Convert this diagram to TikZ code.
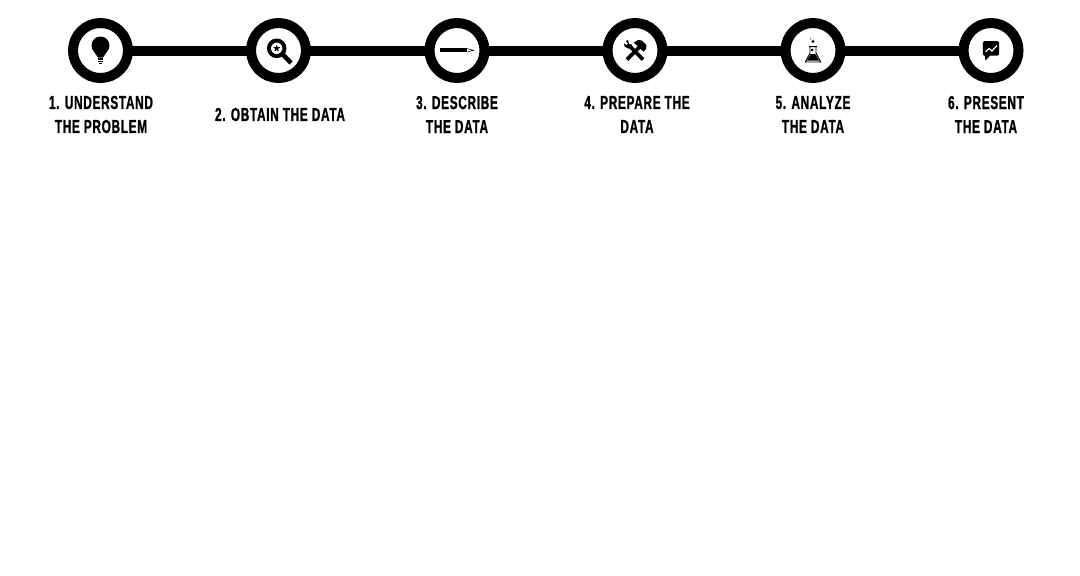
\documentclass[tikz,border=0pt]{standalone}
\usepackage{fontspec}
\setmainfont[FakeStretch=0.63,FakeBold=1,LetterSpace=3.5]{Liberation Sans Bold}
\tikzset{
  stepring/.style={circle,draw=black,fill=white,line width=7.11pt,minimum size=1.375cm,inner sep=0pt,outer sep=0pt},
  steplabel/.style={align=center,font=\fontsize{13.4pt}{17.07pt}\selectfont},
  steplink/.style={draw=black,line width=7.11pt},
  icon/.style={fill=black,draw=none}
}
\begin{document}
\begin{tikzpicture}[x=0.025cm,y=-0.025cm]
\useasboundingbox (0,0) rectangle (1080,575);
\node[stepring] (understand) at (100.5,50.5) {};
\node[stepring] (obtain) at (278.5,50.5) {};
\node[stepring] (describe) at (457,50.5) {};
\node[stepring] (prepare) at (635,50.5) {};
\node[stepring] (analyze) at (813,50.5) {};
\node[stepring] (present) at (991,50.5) {};
\draw[steplink] (understand) -- (obtain);
\draw[steplink] (obtain) -- (describe);
\draw[steplink] (describe) -- (prepare);
\draw[steplink] (prepare) -- (analyze);
\draw[steplink] (analyze) -- (present);
\node[steplabel] (understandlabel) at (101,114.5) {1. UNDERSTAND\\THE PROBLEM};
\node[steplabel] (obtainlabel) at (280,114.5) {2. OBTAIN THE DATA};
\node[steplabel] (describelabel) at (457,114.5) {3. DESCRIBE\\THE DATA};
\node[steplabel] (preparelabel) at (637,114.5) {4. PREPARE THE\\DATA};
\node[steplabel] (analyzelabel) at (813,114.5) {5. ANALYZE\\THE DATA};
\node[steplabel] (presentlabel) at (986,114.5) {6. PRESENT\\THE DATA};
\begin{scope}[shift={(understand.center)}]
\fill[icon] (0,-5) circle [radius=9];
\fill[icon] (-6.5,1) -- (-2.5,7) -- (2.5,7) -- (6.5,1) -- cycle;
\fill[icon] (-2.5,7.5) rectangle (2.5,9);
\fill[icon] (-2.5,10) rectangle (2.5,11.5);
\fill[icon] (-1.5,12) rectangle (1.5,13.5);
\end{scope}
\begin{scope}[shift={(obtain.center)}]
\draw[line width=2.8pt] (-1.8,-2.2) circle [radius=7.8];
\draw[line width=3.2pt] (4.5,4) -- (12.5,12.5);
\fill[icon] (-1.8,-5.8) -- (-0.9,-3.3) -- (1.7,-3.3) -- (-0.4,-1.6) -- (0.4,1) -- (-1.8,-0.5) -- (-4,1) -- (-3.2,-1.6) -- (-5.3,-3.3) -- (-2.7,-3.3) -- cycle;
\end{scope}
\begin{scope}[shift={(describe.center)}]
\fill[icon] (-17,-2.2) rectangle (10,1.8);
\draw[line width=0.35pt] (10,-2) -- (16,-0.2) -- (10,1.6);
\fill[icon] (14,-0.8) rectangle (17,0.4);
\end{scope}
\begin{scope}[shift={(prepare.center)}]
\draw[line width=2.7pt] (-8,9) -- (5.5,-4.5);
\fill[icon] (-1,-8) -- (3,-10.5) -- (7,-10) -- (11.5,-5.5) -- (11,-1.5) -- (8.5,1) -- (5.5,-1.5) -- cycle;
\draw[line width=2.7pt] (8,9) -- (-5,-4);
\fill[icon] (-7,-10.5) -- (-6,-6.5) -- (-3,-6) -- (-3,-3) -- (-7,-2) -- (-10.5,-4) -- (-11,-7.5) -- (-9,-5.5) -- (-7,-6.5) -- (-9,-9.5) -- cycle;
\end{scope}
\begin{scope}[shift={(analyze.center)}]
\draw[line width=0.7pt] (-4,-3.8) -- (4,-3.8) (-3,-3.8) -- (-3,2.8) -- (-7.7,11.5) -- (7.7,11.5) -- (3,2.8) -- (3,-3.8);
\fill[icon] (-2.2,3.5) -- (-6,10) -- (6,10) -- (2.2,3.5) -- cycle;
\fill[icon] (-0.8,-0.5) circle [radius=1.5];
\fill[icon] (0,-9) circle [radius=1.6];
\fill[icon] (-2.2,-11.5) circle [radius=0.6];
\end{scope}
\begin{scope}[shift={(present.center)}]
\fill[icon,rounded corners=1pt] (-8.2,-9.3) rectangle (8.2,5);
\fill[icon] (-6.5,4) -- (-5.5,10) -- (0,4) -- cycle;
\draw[white,line width=0.85pt] (-5.5,1.2) -- (-1.7,-2) -- (1,0.5) -- (6,-5);
\end{scope}
\end{tikzpicture}
\end{document}
